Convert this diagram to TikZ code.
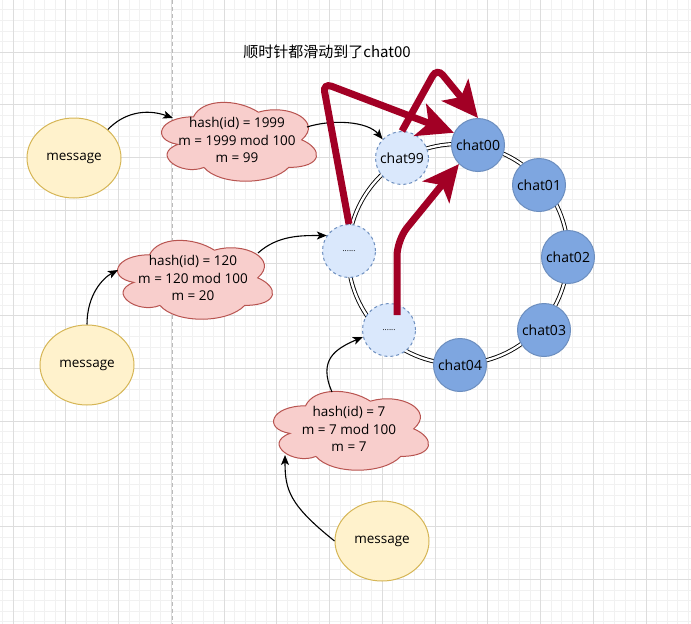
\documentclass[tikz,border=0pt]{standalone}
\usepackage{fontspec}
\setmainfont{Open Sans}
\newfontfamily\cjk{Noto Sans CJK SC}
\usetikzlibrary{shapes.geometric,arrows.meta,calc}
\definecolor{gridminor}{HTML}{F1F1F1}
\definecolor{gridmajor}{HTML}{DDDDDD}
\definecolor{pagebreak}{HTML}{BBBBBB}
\definecolor{msgfill}{HTML}{FFF2CC}
\definecolor{msgdraw}{HTML}{D6B656}
\definecolor{cloudfill}{HTML}{F8CECC}
\definecolor{clouddraw}{HTML}{B85450}
\definecolor{chatfill}{HTML}{7EA6E0}
\definecolor{chatdraw}{HTML}{6C8EBF}
\definecolor{slotfill}{HTML}{DAE8FC}
\definecolor{crimson}{HTML}{A20025}
% draw.io style cloud outline in the 173x92 box of node #1
\newcommand{\drawiocloud}[1]{%
  \draw[draw=clouddraw,fill=cloudfill,line width=1pt,shift={(#1.north west)}]
    (43.25,23) .. controls (8.65,23) and (0,46) .. (27.68,50.6)
    .. controls (0,60.72) and (31.14,82.8) .. (53.63,73.6)
    .. controls (69.2,92) and (121.1,92) .. (138.4,73.6)
    .. controls (173,73.6) and (173,55.2) .. (151.375,46)
    .. controls (173,27.6) and (138.4,9.2) .. (108.125,18.4)
    .. controls (86.5,4.6) and (51.9,4.6) .. (43.25,23) -- cycle;}
\begin{document}
\begin{tikzpicture}[x=1pt,y=-1pt,
  msg/.style={ellipse,draw=msgdraw,fill=msgfill,line width=1pt,minimum width=94pt,minimum height=80pt,inner sep=0pt,font=\fontsize{13.5}{15}\selectfont},
  cloudbox/.style={rectangle,minimum width=173pt,minimum height=92pt,inner sep=0pt,align=center,font=\fontsize{13.5}{17.5}\selectfont},
  chat/.style={circle,draw=chatdraw,fill=chatfill,line width=1pt,minimum size=53pt,inner sep=0pt,font=\fontsize{14}{15}\selectfont},
  slot/.style={circle,draw=chatdraw,fill=slotfill,dash pattern=on 3pt off 3pt,line width=1pt,minimum size=53pt,inner sep=0pt,font=\fontsize{8}{10}\selectfont},
  link/.style={-{Stealth[length=10pt,width=8pt,inset=2.5pt]},line width=1.1pt},
  slide/.style={crimson,line width=7pt,rounded corners=9pt,-{Stealth[length=36pt,width=34pt,inset=9pt]}}
]
\useasboundingbox (0,0) rectangle (691,624);
\fill[white] (0,0) rectangle (691,624);
% grid
\foreach \i in {0,...,65} \draw[gridminor,line width=0.8pt] ({2.45+10.55*\i},0) -- ({2.45+10.55*\i},624);
\foreach \i in {1,...,59} \draw[gridminor,line width=0.8pt] (0,{-0.75+10.55*\i}) -- (691,{-0.75+10.55*\i});
\foreach \i in {0,...,12} \draw[gridmajor,line width=0.9pt] ({13+52.75*\i},0) -- ({13+52.75*\i},624);
\foreach \i in {1,...,11} \draw[gridmajor,line width=0.9pt] (0,{-0.75+52.75*\i}) -- (691,{-0.75+52.75*\i});
\draw[pagebreak,line width=0.9pt,dash pattern=on 4pt off 3pt] (172.8,0) -- (172.8,624);

% ring
\coordinate (ringc) at (458,254);
\draw[black,line width=0.9pt,double=white,double distance=2.4pt] (ringc) circle[radius=110];

% title
\node[font=\cjk\fontsize{15}{18}\selectfont] (title) at (327,52) {顺时针都滑动到了chat00};

% messages
\node[msg] (m1) at (74,158) {message};
\node[msg] (m2) at (87,365) {message};
\node[msg] (m3) at (382,541) {message};

% clouds
\node[cloudbox] (c1) at (237,140) {};
\node[cloudbox] (c2) at (193,278) {};
\node[cloudbox] (c3) at (349,429) {};
\drawiocloud{c1}
\drawiocloud{c2}
\drawiocloud{c3}
\node[cloudbox] (t1) at (c1.center) {hash(id) = 1999\\m = 1999 mod 100\\m = 99};
\node[cloudbox] (t2) at (c2.center) {hash(id) = 120\\m = 120 mod 100\\m = 20};
\node[cloudbox] (t3) at (c3.center) {hash(id) = 7\\m = 7 mod 100\\m = 7};

% ring nodes
\node[chat] (chat00) at (478,145) {chat00};
\node[chat] (chat01) at (539,185) {chat01};
\node[chat] (chat02) at (568,257) {chat02};
\node[chat] (chat03) at (544,330) {chat03};
\node[chat] (chat04) at (460,365) {chat04};
\node[slot,font=\fontsize{14}{15}\selectfont] (chat99) at (402,158) {chat99};
\node[slot] (d1) at (349,251) {......};
\node[slot] (d2) at (389,330) {......};

% black connectors
\draw[link] (m1.40) .. controls +(15,-16) and +(-28,-10) .. ($(c1.center)+(-64,-22)$);
\draw[link] ($(c1.center)+(70,-13)$) .. controls +(25,-8) and +(-15,-18) .. (chat99.136);
\draw[link] ($(c2.center)+(65,-25)$) .. controls +(20,-18) and +(-25,0) .. (d1.145);
\draw[link] (m2.north) .. controls +(0,-30) and +(-15,8) .. ($(c2.center)+(-75,-8)$);
\draw[link] ($(c3.center)+(-17,-37)$) .. controls +(-14,-32) and +(-28,12) .. (d2.195);
\draw[link] (m3.west) .. controls +(-45,-36) and +(0,35) .. ($(c3.center)+(-64,26)$);

% crimson slides
\draw[slide] (d1.north) -- (323,83) -- (chat00.153);
\draw[slide] (chat99.north) -- (437,68) -- (chat00.north);
\draw[slide,rounded corners=16pt] ($(d2.center)+(8,-15)$) -- (397,240) -- (chat00.225);
\end{tikzpicture}
\end{document}
